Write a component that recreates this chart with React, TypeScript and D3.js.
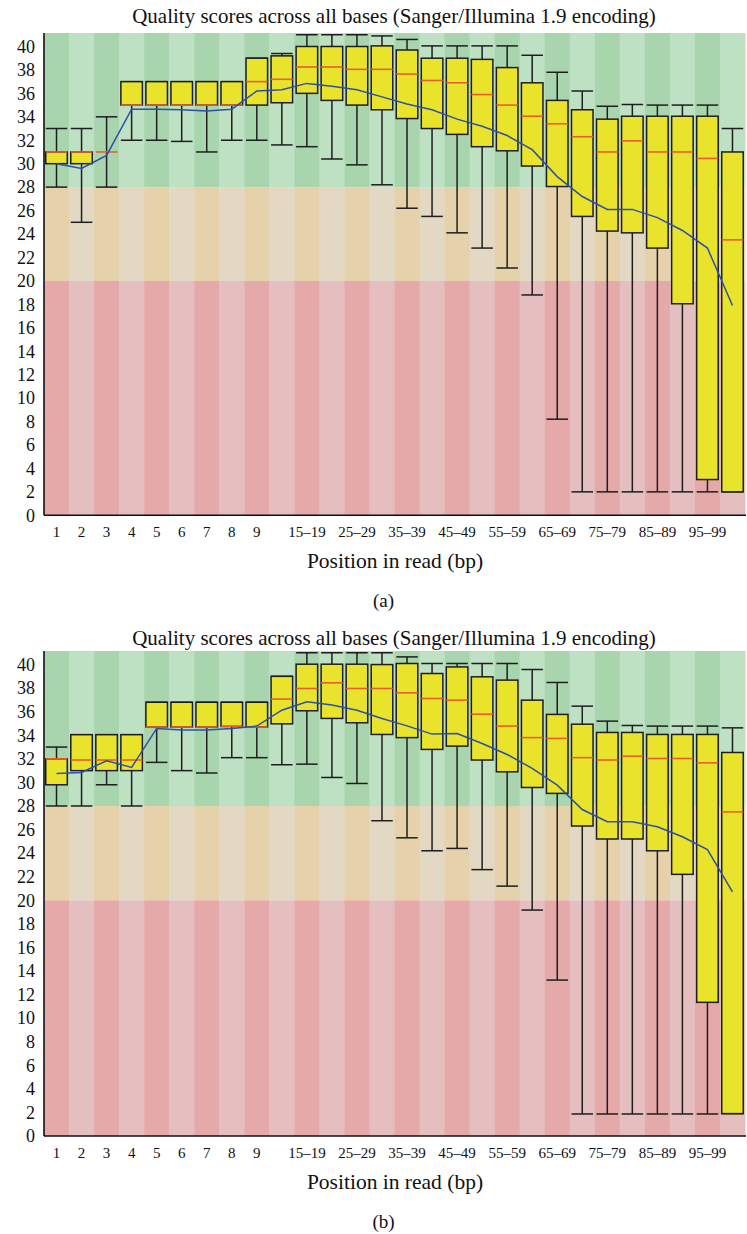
import React from 'react';
import * as d3 from 'd3';

const positions = [
  '1', '2', '3', '4', '5', '6', '7', '8', '9',
  '10–14', '15–19', '20–24', '25–29', '30–34', '35–39', '40–44', '45–49',
  '50–54', '55–59', '60–64', '65–69', '70–74', '75–79', '80–84', '85–89',
  '90–94', '95–99', '100',
];
// only these labels are printed under the axis
const shownTicks = [
  '1', '2', '3', '4', '5', '6', '7', '8', '9',
  '15–19', '25–29', '35–39', '45–49', '55–59', '65–69', '75–79', '85–89', '95–99',
];
const yTicks = d3.range(0, 41, 2);

// panel (a)
const lowA = [28, 25, 28, 32, 32, 31.9, 31, 32, 32, 31.6, 31.45, 30.4, 29.9, 28.2, 26.2, 25.5, 24.1, 22.8, 21.1, 18.8, 8.2, 2, 2, 2, 2, 2, 2, 2];
const q1A = [30, 30, 31, 35, 35, 35, 35, 35, 35, 35.2, 36, 35.4, 35, 34.6, 33.85, 33, 32.5, 31.45, 31.1, 29.8, 28.05, 25.5, 24.25, 24.1, 22.8, 18.05, 3.05, 2];
const medA = [31, 31, 31, 35, 35, 35, 35, 35, 37, 37.2, 38.25, 38.25, 38.05, 38.05, 37.65, 37.1, 36.9, 35.9, 35, 34.05, 33.4, 32.3, 31, 31.95, 31, 31, 30.45, 23.5];
const q3A = [31, 31, 31, 37, 37, 37, 37, 37, 39, 39.2, 40, 40, 40, 40.05, 39.7, 39, 39, 38.9, 38.2, 36.9, 35.4, 34.6, 33.8, 34.05, 34.05, 34.05, 34.05, 31];
const highA = [33, 33, 34, 37, 37, 37, 37, 37, 39, 39.4, 41, 41, 41, 40.9, 40.6, 40.05, 40.05, 40.05, 40.05, 39.25, 37.8, 36.2, 34.9, 35.05, 35, 35, 35, 33];
const meanA = [30, 29.6, 30.7, 34.65, 34.65, 34.6, 34.5, 34.65, 36.2, 36.3, 36.85, 36.6, 36.3, 35.7, 35.1, 34.6, 33.8, 33.2, 32.4, 31.2, 28.9, 27.2, 26.1, 26.1, 25.4, 24.3, 22.8, 17.9];

// panel (b)
const lowB = [28, 28, 29.8, 28, 31.7, 31, 30.8, 32.1, 32.1, 31.5, 31.55, 30.42, 29.91, 26.75, 25.3, 24.2, 24.4, 22.6, 21.2, 19.17, 13.23, 1.87, 1.87, 1.87, 1.87, 1.87, 1.87, 1.9];
const q1B = [29.8, 31, 31, 31, 34.7, 34.7, 34.7, 34.75, 34.7, 34.97, 36.08, 35.43, 35.06, 34.07, 33.8, 32.8, 33.08, 31.9, 30.9, 29.57, 29.07, 26.3, 25.2, 25.2, 24.2, 22.2, 11.34, 1.9];
const medB = [32, 31.9, 31.9, 31.9, 34.7, 34.7, 34.7, 34.75, 34.7, 37.07, 37.97, 38.45, 37.97, 37.97, 37.6, 37.12, 36.98, 35.79, 34.78, 33.8, 33.73, 32.1, 31.9, 32.23, 32.03, 32.03, 31.66, 27.5];
const q3B = [32, 34.05, 34.05, 34.05, 36.8, 36.8, 36.8, 36.8, 36.8, 39, 40.03, 40.03, 40.03, 40, 40.09, 39.24, 39.8, 38.96, 38.68, 36.98, 35.77, 34.94, 34.24, 34.24, 34.07, 34.07, 34.07, 32.54];
const highB = [33, 34.05, 34.05, 34.05, 36.8, 36.8, 36.8, 36.8, 36.8, 39, 41, 41, 41, 41, 40.65, 40.09, 40.09, 40.09, 40.09, 39.58, 38.48, 36.47, 35.2, 34.83, 34.78, 34.78, 34.78, 34.63];
const meanB = [30.76, 30.85, 31.84, 31.27, 34.58, 34.44, 34.44, 34.58, 34.78, 36.13, 36.84, 36.56, 36.13, 35.43, 34.8, 34.1, 34.15, 33.3, 32.37, 31.19, 29.77, 27.7, 26.66, 26.66, 26.24, 25.39, 24.3, 20.72];

const zones = [
  { from: 28, to: 41.15, dark: '#a8d5ae', light: '#bee0c3' },
  { from: 20, to: 28, dark: '#e5d1aa', light: '#e3d8c4' },
  { from: 0, to: 20, dark: '#e6a9aa', light: '#e5bfbf' },
];

const FONT = '"Liberation Serif", "Times New Roman", serif';

const Panel = ({ top, bottom, titleY, tag, low, q1, med, q3, high, mean }) => {
  const x = d3.scaleBand().domain(positions).range([44, 745]).padding(0);
  const y = d3.scaleLinear().domain([0, 41.15]).range([bottom, top]);
  const bw = x.bandwidth();
  const boxW = bw * 0.86;
  const line = d3.line()
    .x((d, i) => x(positions[i]) + bw / 2)
    .y(d => y(d));

  return (
    <g>
      <text x={394} y={titleY} textAnchor="middle" fontSize="21" fill="#111">
        Quality scores across all bases (Sanger/Illumina 1.9 encoding)
      </text>
      {zones.map(z => positions.map((p, i) => (
        <rect key={z.from + p} x={x(p)} y={y(z.to)} width={bw + 0.5}
          height={y(z.from) - y(z.to)} fill={i % 2 === 0 ? z.dark : z.light} />
      )))}
      {positions.map((p, i) => {
        const cx = x(p) + bw / 2;
        const l = cx - boxW / 2;
        return (
          <g key={p} stroke="#1e1e1e" strokeWidth="1.5">
            <line x1={cx} x2={cx} y1={y(low[i])} y2={y(q1[i])} />
            <line x1={cx} x2={cx} y1={y(q3[i])} y2={y(high[i])} />
            <line x1={l} x2={l + boxW} y1={y(low[i])} y2={y(low[i])} />
            <line x1={l} x2={l + boxW} y1={y(high[i])} y2={y(high[i])} />
            {q3[i] > q1[i] && (
              <rect x={l} y={y(q3[i])} width={boxW} height={y(q1[i]) - y(q3[i])} fill="#eae32c" />
            )}
            <line x1={l} x2={l + boxW} y1={y(med[i])} y2={y(med[i])} stroke="#e6602a" strokeWidth="1.6" />
          </g>
        );
      })}
      <path d={line(mean)} fill="none" stroke="#2c50a8" strokeWidth="1.5" />
      <line x1={44} x2={44} y1={top} y2={bottom} stroke="#111" strokeWidth="1.6" />
      <line x1={44} x2={746} y1={bottom} y2={bottom} stroke="#111" strokeWidth="1.6" />
      {yTicks.map(t => (
        <text key={t} x={35} y={y(t)} dy="0.35em" textAnchor="end" fontSize="18" fill="#111">{t}</text>
      ))}
      {shownTicks.map(t => (
        <text key={t} x={x(t) + bw / 2} y={bottom + 21.5} textAnchor="middle" fontSize="15" fill="#111">{t}</text>
      ))}
      <text x={395} y={bottom + 53} textAnchor="middle" fontSize="21.5" fill="#111">Position in read (bp)</text>
      <text x={383.5} y={bottom + 92} textAnchor="middle" fontSize="19" fill="#111">{tag}</text>
    </g>
  );
};

const App = () => (
  <svg width={747} height={1234} style={{ position: 'absolute', left: 0, top: 0, background: '#fff' }}
    fontFamily={FONT}>
    <Panel top={33} bottom={515.3} titleY={22.5} tag="(a)"
      low={lowA} q1={q1A} med={medA} q3={q3A} high={highA} mean={meanA} />
    <Panel top={651} bottom={1136} titleY={644.5} tag="(b)"
      low={lowB} q1={q1B} med={medB} q3={q3B} high={highB} mean={meanB} />
  </svg>
);

export default App;
